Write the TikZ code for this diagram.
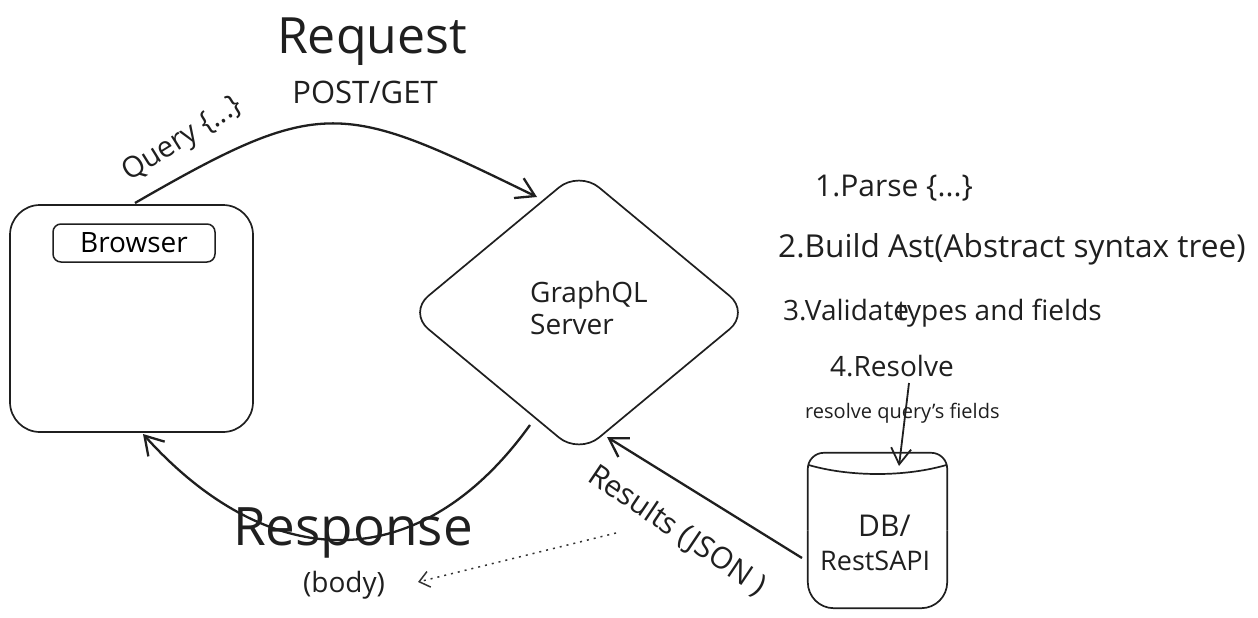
\documentclass[tikz,border=0pt]{standalone}
\usepackage{fontspec}
\setmainfont{Open Sans}
\usetikzlibrary{arrows.meta,shapes.geometric}
\begin{document}
\begin{tikzpicture}[x=1pt,y=-1pt,
  ink/.style={draw=black!88, line width=1.7pt},
  conn/.style={draw=black!88, line width=2.3pt, -{Straight Barb[length=18pt,width=22pt]}},
  thinconn/.style={draw=black!88, line width=1.8pt, -{Straight Barb[length=16pt,width=20pt]}},
  dotconn/.style={draw=black!80, line width=1.5pt, dash pattern=on 2pt off 5pt, -{Straight Barb[length=10pt,width=16pt]}},
  txt/.style={inner sep=0pt, anchor=base west, text=black!88},
  big/.style={font=\fontsize{50}{58}\selectfont},
  mid/.style={font=\fontsize{28}{32}\selectfont},
  small/.style={font=\fontsize{20}{24}\selectfont}
]
\useasboundingbox (0,0) rectangle (1258,618);
\fill[white] (0,0) rectangle (1258,618);

% Browser
\node[ink, rounded corners=30pt, minimum width=243pt, minimum height=227pt, inner sep=0pt] (browser) at (131.5,318.5) {};
\node[ink, rounded corners=8pt, minimum width=162pt, minimum height=38pt, inner sep=0pt, mid, line width=1.5pt] (browsertab) at (134,243) {Browser};

% GraphQL server
\node[ink, shape=diamond, minimum width=342pt, minimum height=284pt, inner sep=0pt, rounded corners=26pt] (server) at (579,312.5) {};
\node[txt, mid, align=left, anchor=north west] (servertxt) at (530,281) {GraphQL\\[0pt]Server};

% DB (cylinder)
\node[minimum width=139pt, minimum height=155pt, inner sep=0pt] (db) at (877.5,530.5) {};
\draw[ink, rounded corners=16pt] (db.west) -- (db.north west) -- (db.north east) -- (db.east);
\draw[ink, rounded corners=26pt] (db.west) -- (db.south west) -- (db.south east) -- (db.east);
\draw[ink] (808.6,465) .. controls (850,477) and (905,477) .. (946.4,465);
\node[txt, font=\fontsize{30}{34}\selectfont] (dbtxt1) at (858,536) {DB/};
\node[txt, font=\fontsize{27}{32}\selectfont] (dbtxt2) at (820,570) {RestSAPI};

% Titles
\node[txt, big, anchor=base] (request) at (372,54) {Request};
\node[txt, font=\fontsize{31}{36}\selectfont, anchor=base] (postget) at (365,103) {POST/GET};
\node[txt, font=\fontsize{29}{34}\selectfont, rotate=32, anchor=center] (query) at (183,140) {Query \{...\}};
\node[txt, font=\fontsize{53}{60}\selectfont, anchor=base] (response) at (353,545) {Response};
\node[txt, mid, anchor=base] (body) at (344,592) {(body)};
\node[txt, font=\fontsize{30}{34}\selectfont, rotate=-34, anchor=center] (results) at (677,531) {Results (JSON )};

% Steps
\node[txt, font=\fontsize{30}{34}\selectfont] (s1) at (815,196) {1.Parse \{...\}};
\node[txt, font=\fontsize{31.6}{36}\selectfont] (s2) at (778,257) {2.Build Ast(Abstract syntax tree)};
\node[txt, mid] (s3) at (783,320) {3.Validate};
\node[txt, mid] (s3b) at (897,320) {types and fields};
\node[txt, mid] (s4) at (830,376) {4.Resolve};
\node[txt, small] (s4b) at (805,418) {resolve query's fields};

% Connectors
\coordinate (reqStart) at (135,203);
\coordinate (reqEnd) at (537,197);
\draw[conn] (reqStart) to[out=30, in=154, looseness=1.38] (reqEnd);

\coordinate (respStart) at (530,425);
\coordinate (respEnd) at (143,434);
\draw[conn] (respStart) .. controls (420,578) and (270,575) .. (respEnd);

\coordinate (resStart) at (802,558);
\coordinate (resEnd) at (607,437);
\draw[conn] (resStart) -- (resEnd);

\coordinate (rslvStart) at (909,383);
\coordinate (rslvEnd) at (899,466);
\draw[thinconn] (rslvStart) -- (rslvEnd);

\coordinate (dotStart) at (616,533);
\coordinate (dotEnd) at (418,582);
\draw[dotconn] (dotStart) -- (dotEnd);
\end{tikzpicture}
\end{document}
